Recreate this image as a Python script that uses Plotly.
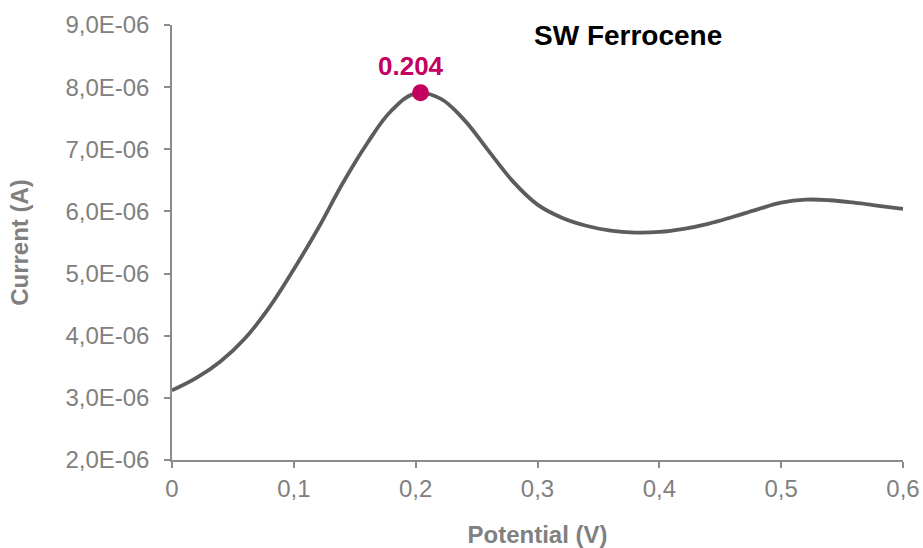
import plotly.graph_objects as go

# Square-wave voltammogram of ferrocene (evenly spaced potential steps)
potential_v = [0.00, 0.02, 0.04, 0.06, 0.08, 0.10, 0.12, 0.14, 0.16, 0.18,
               0.20, 0.22, 0.24, 0.26, 0.28, 0.30, 0.32, 0.34, 0.36, 0.38,
               0.40, 0.42, 0.44, 0.46, 0.48, 0.50, 0.52, 0.54, 0.56, 0.58, 0.60]
current_a = [3.12e-6, 3.32e-6, 3.59e-6, 3.96e-6, 4.46e-6, 5.07e-6, 5.73e-6, 6.45e-6, 7.09e-6, 7.62e-6,
             7.90e-6, 7.82e-6, 7.47e-6, 6.97e-6, 6.48e-6, 6.11e-6, 5.90e-6, 5.77e-6, 5.69e-6, 5.66e-6,
             5.67e-6, 5.72e-6, 5.80e-6, 5.91e-6, 6.03e-6, 6.14e-6, 6.19e-6, 6.18e-6, 6.14e-6, 6.09e-6, 6.04e-6]

peak_potential = 0.204
peak_current = 7.91e-6

x_ticks = [0, 0.1, 0.2, 0.3, 0.4, 0.5, 0.6]
y_ticks = [2e-6, 3e-6, 4e-6, 5e-6, 6e-6, 7e-6, 8e-6, 9e-6]

x_ticktext = ["0" if v == 0 else f"{v:.1f}".replace(".", ",") for v in x_ticks]
y_ticktext = [f"{v:.1E}".replace(".", ",") for v in y_ticks]

GRAY_TEXT = "#808080"
AXIS_GRAY = "#8c8c8c"
MAGENTA = "#C4005E"
FONT = "Liberation Sans, Arial, sans-serif"

fig = go.Figure()
fig.add_trace(go.Scatter(
    x=potential_v, y=current_a, mode="lines",
    line=dict(color="#5c5c5c", width=3.8, shape="spline", smoothing=1.1),
    showlegend=False, hoverinfo="skip",
))
fig.add_trace(go.Scatter(
    x=[peak_potential], y=[peak_current], mode="markers",
    marker=dict(color=MAGENTA, size=17),
    showlegend=False, hoverinfo="skip",
))

fig.add_annotation(
    x=peak_potential, y=peak_current, text="<b>0.204</b>", showarrow=False,
    xshift=-10, yshift=27, font=dict(family=FONT, size=26, color=MAGENTA),
)
fig.add_annotation(
    xref="paper", yref="paper", x=0.624, y=0.977, xanchor="center", yanchor="middle",
    text="<b>SW Ferrocene</b>", showarrow=False,
    font=dict(family=FONT, size=28, color="#000000"),
)

fig.update_layout(
    width=923, height=548,
    margin=dict(l=172, r=20, t=25, b=88, autoexpand=False),
    paper_bgcolor="white", plot_bgcolor="white",
    font=dict(family=FONT, color=GRAY_TEXT),
    xaxis=dict(
        range=[0, 0.6], tickvals=x_ticks, ticktext=x_ticktext,
        showgrid=False, zeroline=False, showline=True, automargin=False,
        linecolor=AXIS_GRAY, linewidth=1.5,
        ticks="outside", ticklen=6, tickcolor=AXIS_GRAY, tickwidth=1.5,
        tickfont=dict(size=24, color=GRAY_TEXT),
        title=dict(text="<b>Potential (V)</b>", font=dict(size=24, color=GRAY_TEXT), standoff=30),
    ),
    yaxis=dict(
        range=[2e-6, 9e-6], tickvals=y_ticks, ticktext=y_ticktext,
        showgrid=False, zeroline=False, showline=True, automargin=False,
        linecolor=AXIS_GRAY, linewidth=1.5,
        ticks="outside", ticklen=6, tickcolor=AXIS_GRAY, tickwidth=1.5,
        tickfont=dict(size=24, color=GRAY_TEXT), ticklabelstandoff=10,
        title=dict(text="<b>Current (A)</b>", font=dict(size=24, color=GRAY_TEXT), standoff=30),
    ),
)

fig.write_html("out.html")
